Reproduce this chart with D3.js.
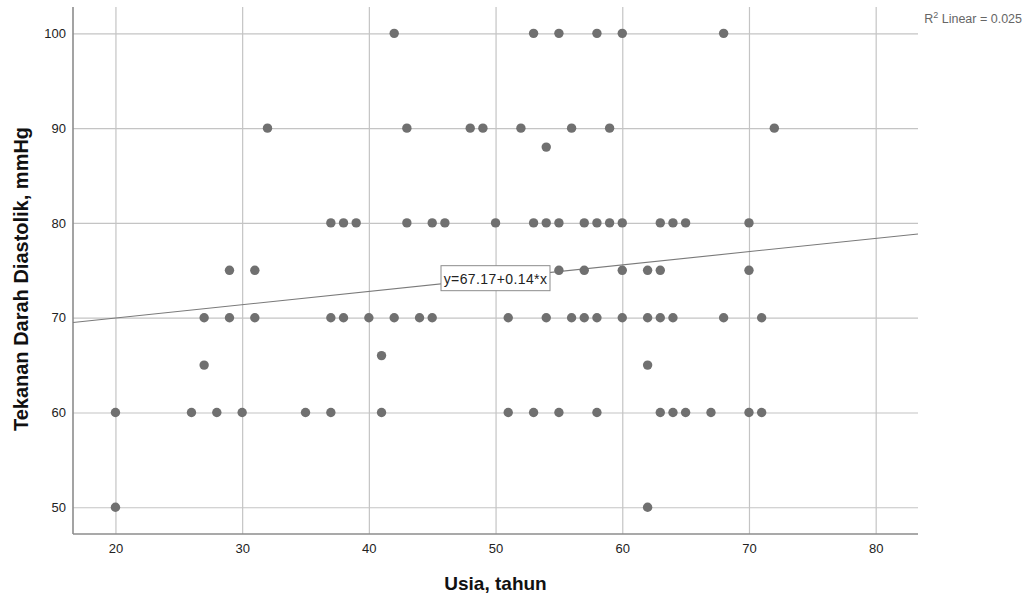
<!DOCTYPE html>
<html>
<head>
<meta charset="utf-8">
<title>Usia vs Tekanan Darah Diastolik</title>
<script src="https://d3js.org/d3.v7.min.js"></script>
<style>
  body { margin: 0; background: #fff; }
  text { font-family: Arial, "Liberation Sans", sans-serif; }
</style>
</head>
<body>
<div id="chart"></div>
<script>
// ages (Usia, tahun) for each diastolic level
var dbp100 = [42, 53, 55, 58, 60, 68];
var dbp90  = [32, 43, 48, 49, 52, 56, 59, 72];
var dbp88  = [54];
var dbp80  = [37, 38, 39, 43, 45, 46, 50, 53, 54, 55, 57, 58, 59, 60, 63, 64, 65, 70];
var dbp75  = [29, 31, 55, 57, 60, 62, 63, 70];
var dbp70  = [27, 29, 31, 37, 38, 40, 42, 44, 45, 51, 54, 56, 57, 58, 60, 62, 63, 64, 68, 71];
var dbp66  = [41];
var dbp65  = [27, 62];
var dbp60  = [20, 26, 28, 30, 35, 37, 41, 51, 53, 55, 58, 63, 64, 65, 67, 70, 71];
var dbp50  = [20, 62];

var xTicks = [20, 30, 40, 50, 60, 70, 80];
var yTicks = [50, 60, 70, 80, 90, 100];

// fit line as printed on the chart
var intercept = 67.17, slope = 0.14;
var r2 = "0.025";

var groups = [[100, dbp100], [90, dbp90], [88, dbp88], [80, dbp80], [75, dbp75],
              [70, dbp70], [66, dbp66], [65, dbp65], [60, dbp60], [50, dbp50]];
var points = [];
groups.forEach(function (g) {
    g[1].forEach(function (a) { points.push({ age: a, dbp: g[0] }); });
});

var W = 1026, H = 598;
var margin = { top: 7, right: 108, bottom: 64, left: 73 },
    width = W - margin.left - margin.right,
    height = H - margin.top - margin.bottom;

var svg = d3.select("#chart").append("svg")
    .attr("width", W).attr("height", H);
var g = svg.append("g")
    .attr("transform", "translate(" + margin.left + "," + margin.top + ")");

var x = d3.scaleLinear().domain([16.65, 83.34]).range([0, width]);
var y = d3.scaleLinear().domain([47.18, 102.78]).range([height, 0]);

// gridlines
g.append("g")
    .attr("transform", "translate(0," + height + ")")
    .call(d3.axisBottom(x).tickValues(xTicks).tickSize(-height).tickFormat(""))
    .call(function (s) {
        s.select(".domain").remove();
        s.selectAll("line").attr("stroke", "#c4c4c4").attr("stroke-width", 1.2);
    });
g.append("g")
    .call(d3.axisLeft(y).tickValues(yTicks).tickSize(-width).tickFormat(""))
    .call(function (s) {
        s.select(".domain").remove();
        s.selectAll("line").attr("stroke", "#c4c4c4").attr("stroke-width", 1.2);
    });

// tick labels
g.append("g")
    .attr("transform", "translate(0," + height + ")")
    .call(d3.axisBottom(x).tickValues(xTicks).tickSize(0).tickPadding(10))
    .call(function (s) {
        s.select(".domain").remove();
        s.selectAll("text").attr("font-size", 13).attr("fill", "#222")
            .attr("font-family", "Arial, 'Liberation Sans', sans-serif");
    });
g.append("g")
    .call(d3.axisLeft(y).tickValues(yTicks).tickSize(0).tickPadding(7))
    .call(function (s) {
        s.select(".domain").remove();
        s.selectAll("text").attr("font-size", 13).attr("fill", "#222")
            .attr("font-family", "Arial, 'Liberation Sans', sans-serif");
    });

// axis lines
g.append("line").attr("x1", 0).attr("x2", 0).attr("y1", 0).attr("y2", height)
    .attr("stroke", "#8c8c8c").attr("stroke-width", 1.6);
g.append("line").attr("x1", 0).attr("x2", width).attr("y1", height).attr("y2", height)
    .attr("stroke", "#8c8c8c").attr("stroke-width", 1.6);

// fit line
var x0 = x.domain()[0], x1 = x.domain()[1];
g.append("line")
    .attr("x1", x(x0)).attr("y1", y(intercept + slope * x0))
    .attr("x2", x(x1)).attr("y2", y(intercept + slope * x1))
    .attr("stroke", "#7a7a7a").attr("stroke-width", 1.1);

// points
g.selectAll("circle.pt")
    .data(points)
    .enter().append("circle")
    .attr("class", "pt")
    .attr("cx", function (d) { return x(d.age); })
    .attr("cy", function (d) { return y(d.dbp); })
    .attr("r", 4.7)
    .attr("fill", "#707070");

// equation label centred on the line
var midX = x.invert(width / 2);
var lab = g.append("g")
    .attr("transform", "translate(" + (width / 2) + "," + y(intercept + slope * midX) + ")");
lab.append("rect")
    .attr("x", -54.5).attr("y", -12.5).attr("width", 109).attr("height", 25)
    .attr("fill", "#fff").attr("stroke", "#8c8c8c").attr("stroke-width", 1);
lab.append("text")
    .attr("text-anchor", "middle").attr("y", 5.5)
    .attr("font-size", 14).attr("letter-spacing", 0.4).attr("fill", "#222")
    .text("y=" + intercept + "+" + slope + "*x");

// R2 annotation
var r2t = svg.append("text")
    .attr("x", 1022).attr("y", 23)
    .attr("text-anchor", "end")
    .attr("font-size", 12.5).attr("fill", "#666");
r2t.append("tspan").text("R");
r2t.append("tspan").attr("font-size", 9).attr("dy", -5).text("2");
r2t.append("tspan").attr("dy", 5).text(" Linear = " + r2);

// axis titles
svg.append("text")
    .attr("x", margin.left + width / 2).attr("y", 590)
    .attr("text-anchor", "middle")
    .attr("font-size", 19).attr("font-weight", "bold").attr("fill", "#111")
    .text("Usia, tahun");
svg.append("text")
    .attr("transform", "translate(28,279) rotate(-90)")
    .attr("text-anchor", "middle")
    .attr("font-size", 20).attr("font-weight", "bold").attr("fill", "#111")
    .text("Tekanan Darah Diastolik, mmHg");
</script>
</body>
</html>
